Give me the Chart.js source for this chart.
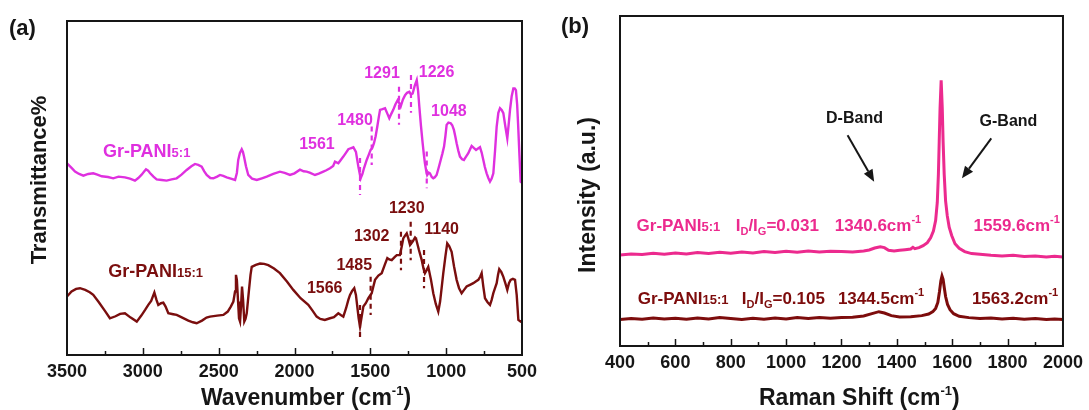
<!DOCTYPE html>
<html><head><meta charset="utf-8">
<script src="https://cdn.jsdelivr.net/npm/chart.js@4.4.0/dist/chart.umd.min.js"></script>
<style>
html,body{margin:0;padding:0;background:#fff;}
#wrap{position:relative;width:1089px;height:410px;overflow:hidden;}
#ca{position:absolute;left:0;top:0;width:545px;height:410px;}
#cb{position:absolute;left:545px;top:0;width:544px;height:410px;}
</style></head><body>
<div id="wrap"><canvas id="ca" width="545" height="410"></canvas><canvas id="cb" width="544" height="410"></canvas></div>
<script>
// ---------- Panel (a): FTIR data ----------
const irWn5 = [3500,3470,3447,3420,3392,3360,3327,3300,3271,3230,3195,3160,3118,3085,3052,3030,3008,2990,2979,2965,2953,2930,2909,2875,2843,2810,2777,2745,2711,2680,2656,2635,2612,2595,2579,2555,2535,2510,2491,2470,2447,2420,2392,2380,2371,2360,2348,2340,2333,2320,2305,2280,2249,2215,2183,2140,2096,2065,2030,2000,1964,1940,1920,1900,1865,1840,1810,1790,1766,1745,1733,1711,1695,1678,1660,1645,1630,1612,1595,1579,1564,1552,1542,1524,1510,1498,1487,1476,1465,1454,1445,1436,1420,1403,1390,1375,1362,1349,1335,1320,1310,1300,1285,1271,1258,1243,1232,1221,1208,1194,1185,1177,1166,1155,1147,1140,1132,1125,1115,1107,1095,1085,1075,1063,1050,1036,1025,1014,1005,997,985,970,960,949,940,931,920,909,895,883,870,854,843,832,818,803,790,777,766,755,745,733,722,711,700,689,678,667,656,645,634,623,610,597,588,579,568,557,548,540,532,525,517,509,500];
const irT5 = [57.4,56.0,54.9,54.2,53.7,54.2,54.4,54.0,53.5,53.3,52.9,53.4,53.2,52.8,52.2,53.0,54.0,55.0,55.6,55.2,54.5,53.4,52.6,52.4,52.2,52.6,52.9,54.0,55.4,56.5,57.2,56.9,56.4,55.0,53.9,53.0,52.9,53.4,53.9,53.6,53.2,52.8,52.4,54.5,58.4,60.5,61.6,60.8,59.4,56.5,53.9,52.8,52.4,52.9,53.4,54.2,54.9,54.5,53.9,54.4,55.5,55.0,54.9,54.6,53.9,54.3,54.9,55.3,55.9,56.6,57.9,57.4,58.4,59.4,60.6,61.6,61.9,62.2,60.8,56.4,52.9,54.2,55.9,58.4,60.0,61.4,62.0,63.4,65.5,68.4,71.0,73.4,73.6,73.9,72.5,70.9,72.2,73.4,75.0,76.3,75.5,74.4,76.5,77.8,78.5,78.8,78.0,78.3,80.5,82.3,79.0,74.4,68.5,63.4,60.0,57.4,55.2,53.9,54.6,54.4,53.3,52.9,53.2,53.9,56.0,58.4,60.3,62.4,65.5,68.9,69.6,69.4,68.8,67.4,65.5,63.4,61.2,59.4,58.6,58.4,59.3,60.4,61.5,62.6,62.0,61.4,61.8,62.2,60.6,58.4,56.3,54.4,53.0,51.9,52.8,54.4,61.0,68.4,72.5,73.9,73.4,72.4,68.5,64.9,69.0,73.4,77.5,79.8,79.8,79.3,75.0,68.4,60.0,51.9,51.5];

const irWn15 = [3500,3470,3440,3414,3380,3350,3327,3290,3250,3217,3180,3150,3118,3080,3040,3010,2985,2964,2945,2924,2910,2898,2880,2865,2850,2832,2800,2777,2740,2700,2670,2645,2610,2580,2557,2510,2469,2440,2420,2403,2392,2386,2380,2372,2366,2359,2352,2346,2339,2331,2323,2315,2300,2290,2282,2255,2227,2200,2173,2135,2096,2050,2008,1960,1909,1880,1854,1830,1800,1766,1740,1711,1695,1678,1660,1645,1634,1620,1606,1595,1586,1577,1568,1557,1546,1530,1513,1491,1480,1469,1447,1425,1405,1388,1375,1359,1340,1326,1305,1293,1283,1270,1260,1250,1238,1220,1205,1199,1180,1161,1150,1140,1128,1118,1100,1085,1068,1052,1040,1030,1019,1005,993,980,964,948,931,915,898,882,865,843,821,805,788,775,766,755,744,727,711,700,689,678,667,658,650,636,623,610,597,586,575,560,546,535,524,509,500];
const irT15 = [17.5,19.0,19.8,20.0,19.5,18.8,18.0,15.8,13.2,11.0,11.6,12.3,12.5,11.2,10.0,11.8,13.5,15.0,16.2,18.7,16.5,15.0,15.5,15.7,14.5,12.5,12.2,12.0,11.2,10.3,9.8,9.5,10.3,11.2,11.5,11.8,12.0,13.0,14.5,16.0,19.0,24.0,22.5,16.0,11.0,10.0,15.0,20.5,16.5,10.0,10.8,12.5,19.5,24.0,26.4,27.0,27.4,27.3,26.9,25.9,24.5,22.0,19.5,17.0,15.0,13.2,11.5,10.8,10.5,11.0,11.3,12.5,12.0,11.5,14.0,16.5,18.0,19.2,20.0,18.0,14.5,11.0,8.5,11.5,14.5,15.5,17.0,18.5,20.5,22.5,23.8,24.5,27.0,29.0,28.6,28.4,29.3,29.9,29.9,32.5,34.9,35.8,36.4,35.0,32.9,34.0,35.2,34.9,31.5,28.4,26.0,24.5,25.5,26.4,22.5,18.5,15.2,13.0,16.0,20.0,24.5,29.5,33.4,32.6,30.9,26.5,22.5,20.0,18.5,19.5,20.5,21.0,21.5,22.0,22.5,23.5,24.5,20.5,17.0,15.8,15.0,16.5,18.5,20.0,21.5,24.0,25.7,24.8,23.4,21.5,19.5,21.5,22.5,22.8,22.5,18.0,10.5,10.0,10.2];

const irTickLabels = [500,1000,1500,2000,2500,3000,3500];

// peak labels [text, wavenumber, level] and dashed markers [wavenumber, from, to]
const irPeakLabels5 = [['1561',1852,62.9],['1480',1601,70.1],['1291',1423,84.3],['1226',1063,84.6],['1048',982,72.8]];
const irPeakLabels15 = [['1230',1260,43.9],['1302',1491,35.4],['1140',1030,37.6],['1485',1606,26.9],['1566',1801,20.0]];
const irDash5 = [[1568,59.0,47.9],[1491,68.4,56.9],[1311,80.3,68.9],[1232,83.8,72.5],[1128,60.9,49.9]];
const irDash15 = [[1568,15.0,5.0],[1498,23.4,12.0],[1298,36.9,25.4],[1234,39.9,28.4],[1146,31.4,20.0]];
const irSampleNames = [['Gr-PANI','5:1',3263,61.2],['Gr-PANI','15:1',3228,25.2]];

// ---------- Panel (b): Raman data ----------
const rmShift5 = [400,440,480,520,560,600,640,680,720,760,800,840,880,920,960,1000,1040,1080,1120,1160,1200,1240,1280,1300,1320,1340,1355,1370,1390,1410,1430,1450,1458,1465,1480,1495,1510,1522,1532,1540,1546,1550,1553,1556,1560,1564,1567,1571,1576,1582,1589,1598,1610,1625,1645,1670,1700,1740,1780,1820,1860,1900,1940,1970,2000];
const rmI5 = [27.6,27.9,27.7,28.1,27.8,28.2,27.9,28.3,28.0,28.4,28.1,28.5,28.2,28.6,28.3,28.7,28.4,28.8,28.5,28.7,28.6,28.5,28.8,29.1,29.7,30.1,29.8,29.0,28.8,29.0,29.2,29.4,29.9,29.5,29.8,30.4,31.3,32.8,34.8,38.0,43.5,52.0,62.0,72.0,80.5,72.0,62.0,52.0,44.0,39.5,36.0,33.5,31.0,29.6,28.6,28.0,27.8,27.5,27.3,27.5,27.1,27.3,27.0,27.2,27.0];
const rmShift15 = [400,440,480,520,560,600,640,680,720,760,800,840,880,920,960,1000,1040,1080,1120,1160,1200,1240,1280,1310,1335,1355,1380,1410,1450,1490,1515,1530,1540,1548,1554,1559,1563,1567,1571,1576,1583,1592,1605,1625,1660,1700,1740,1780,1820,1860,1900,1940,1970,2000];
const rmI15 = [8.0,8.3,8.1,8.5,8.2,8.4,8.1,8.5,8.2,8.6,8.3,8.0,8.4,8.1,8.5,8.2,8.6,8.3,8.6,8.4,8.6,8.7,9.1,9.8,10.4,10.0,9.2,8.8,8.9,9.2,9.7,10.4,11.4,13.2,16.5,19.8,21.2,20.2,17.8,15.0,12.6,11.0,9.8,9.0,8.6,8.3,8.5,8.2,8.4,8.1,8.3,8.0,8.2,8.0];
const rmTickLabels = [400,600,800,1000,1200,1400,1600,1800,2000];

const rmBandLabels = [['D-Band',1247,68.8],['G-Band',1803,67.9]];
const rmArrows = [[1222,63.9,1318,49.8],[1741,62.9,1635,50.8]];
const rmRowLevels = [36.7, 14.5];
const rmRows = [
  {name:'Gr-PANI', ratio:'5:1', id:'0.031', d:'1340.6', g:'1559.6', pos:[460,818,1176,1677]},
  {name:'Gr-PANI', ratio:'15:1', id:'0.105', d:'1344.5', g:'1563.2', pos:[464,840,1187,1671]}
];

// ---------- styling ----------
const FONT = "'Liberation Sans', Arial, sans-serif";
const C_MAG = '#DF30DF';
const C_DR = '#7A0E0E';
const C_PINK = '#EC2A8E';
const C_DR2 = '#7D0C0C';
const C_AX = '#161616';

function pts(xs, ys){ return xs.map((x,i)=>({x:x, y:ys[i]})); }

function drawRich(ctx, segs, x, y, color){
  ctx.save(); ctx.fillStyle = color; ctx.textBaseline = 'alphabetic'; ctx.textAlign = 'left';
  let cx = x;
  for (const s of segs){
    ctx.font = 'bold ' + s.size + 'px ' + FONT;
    ctx.fillText(s.t, cx, y + (s.dy||0));
    cx += ctx.measureText(s.t).width;
  }
  ctx.restore();
  return cx;
}
function seg(t,size,dy){ return {t:t,size:size,dy:dy||0}; }

function frameAndTicks(chart, step, minor){
  const {ctx, chartArea:a, scales:{x}} = chart;
  ctx.save();
  ctx.strokeStyle = C_AX; ctx.lineWidth = 2;
  ctx.strokeRect(a.left, a.top, a.right-a.left, a.bottom-a.top);
  ctx.lineWidth = 1.5;
  for (let v = x.min + minor; v < x.max; v += minor){
    const px = Math.round(x.getPixelForValue(v)) + 0.5;
    const len = (Math.round(v - x.min) % step === 0) ? 7 : 4;
    ctx.beginPath(); ctx.moveTo(px, a.bottom); ctx.lineTo(px, a.bottom - len); ctx.stroke();
  }
  ctx.restore();
}

const irDeco = {
  id:'irDeco',
  afterDatasetsDraw(chart){
    const {ctx, chartArea:a, scales:{x,y}} = chart;
    frameAndTicks(chart, 500, 250);
    ctx.save(); ctx.lineWidth = 2.2; ctx.setLineDash([5,4]);
    [[irDash5,C_MAG],[irDash15,C_DR]].forEach(([arr,col])=>{
      ctx.strokeStyle = col;
      arr.forEach(d=>{ const px=x.getPixelForValue(d[0]);
        ctx.beginPath(); ctx.moveTo(px,y.getPixelForValue(d[1])); ctx.lineTo(px,y.getPixelForValue(d[2])); ctx.stroke(); });
    });
    ctx.restore();
    ctx.save(); ctx.font = 'bold 16px ' + FONT; ctx.textAlign='center'; ctx.textBaseline='middle';
    [[irPeakLabels5,C_MAG],[irPeakLabels15,C_DR]].forEach(([arr,col])=>{
      ctx.fillStyle = col;
      arr.forEach(l=>ctx.fillText(l[0], x.getPixelForValue(l[1]), y.getPixelForValue(l[2])));
    });
    ctx.restore();
    irSampleNames.forEach((s,i)=>{
      const col = i===0 ? C_MAG : C_DR;
      const by = y.getPixelForValue(s[3]) + 6.5;
      drawRich(ctx,[seg(s[0],18),seg(s[1],13)], x.getPixelForValue(s[2]), by, col);
    });
    drawRich(ctx,[seg('Wavenumber (cm',23),seg('-1',13,-10),seg(')',23)], a.left+134, 405, C_AX);
    ctx.save(); ctx.translate(39.5, 180); ctx.rotate(-Math.PI/2);
    ctx.font='bold 22px '+FONT; ctx.fillStyle=C_AX; ctx.textAlign='center'; ctx.textBaseline='middle';
    ctx.fillText('Transmittance%',0,0); ctx.restore();
    ctx.save(); ctx.font='bold 22px '+FONT; ctx.fillStyle=C_AX; ctx.textAlign='left'; ctx.textBaseline='middle';
    ctx.fillText('(a)', 9, 29); ctx.restore();
  }
};

const rmDeco = {
  id:'rmDeco',
  afterDatasetsDraw(chart){
    const {ctx, chartArea:a, scales:{x,y}} = chart;
    frameAndTicks(chart, 200, 100);
    ctx.save(); ctx.font='bold 16px '+FONT; ctx.fillStyle=C_AX; ctx.textAlign='center'; ctx.textBaseline='middle';
    rmBandLabels.forEach(l=>ctx.fillText(l[0], x.getPixelForValue(l[1]), y.getPixelForValue(l[2])));
    ctx.restore();
    ctx.save(); ctx.strokeStyle=C_AX; ctx.fillStyle=C_AX; ctx.lineWidth=2;
    rmArrows.forEach(r=>{
      const x1=x.getPixelForValue(r[0]), y1=y.getPixelForValue(r[1]), x2=x.getPixelForValue(r[2]), y2=y.getPixelForValue(r[3]);
      const ang=Math.atan2(y2-y1,x2-x1), L=12, W=5;
      const bx=x2-L*Math.cos(ang), by=y2-L*Math.sin(ang);
      ctx.beginPath(); ctx.moveTo(x1,y1); ctx.lineTo(bx,by); ctx.stroke();
      ctx.beginPath(); ctx.moveTo(x2,y2);
      ctx.lineTo(bx+W*Math.sin(ang), by-W*Math.cos(ang));
      ctx.lineTo(bx-W*Math.sin(ang), by+W*Math.cos(ang)); ctx.closePath(); ctx.fill();
    });
    ctx.restore();
    rmRows.forEach((r,i)=>{
      const col = i===0 ? C_PINK : C_DR2;
      const by = y.getPixelForValue(rmRowLevels[i]) + 6;
      drawRich(ctx,[seg(r.name,17),seg(r.ratio,13)], x.getPixelForValue(r.pos[0]), by, col);
      drawRich(ctx,[seg('I',17),seg('D',11,4),seg('/I',17),seg('G',11,4),seg('='+r.id,17)], x.getPixelForValue(r.pos[1]), by, col);
      drawRich(ctx,[seg(r.d+'cm',17),seg('-1',11,-8)], x.getPixelForValue(r.pos[2]), by, col);
      drawRich(ctx,[seg(r.g+'cm',17),seg('-1',11,-8)], x.getPixelForValue(r.pos[3]), by, col);
    });
    drawRich(ctx,[seg('Raman Shift (cm',23),seg('-1',13,-10),seg(')',23)], a.left+139, 405, C_AX);
    ctx.save(); ctx.translate(44, 195); ctx.rotate(-Math.PI/2);
    ctx.font='bold 23px '+FONT; ctx.fillStyle=C_AX; ctx.textAlign='center'; ctx.textBaseline='middle';
    ctx.fillText('Intensity (a.u.)',0,0); ctx.restore();
    ctx.save(); ctx.font='bold 22px '+FONT; ctx.fillStyle=C_AX; ctx.textAlign='left'; ctx.textBaseline='middle';
    ctx.fillText('(b)', 16, 27); ctx.restore();
  }
};

function xScale(min,max,labels,reverse,height){
  return {
    type:'linear', min:min, max:max, reverse:reverse,
    afterBuildTicks:(s)=>{ s.ticks = labels.map(v=>({value:v})); },
    ticks:{ autoSkip:false, maxRotation:0, padding:6, color:C_AX, font:{family:FONT,size:18,weight:'bold'},
            callback:(v)=>String(v) },
    grid:{display:false, drawTicks:false}, border:{display:false},
    title:{display:false},
    afterFit:(s)=>{ s.height = height; }
  };
}
function yScale(width){
  return { type:'linear', min:0, max:100, display:true,
    ticks:{display:false}, grid:{display:false, drawTicks:false}, border:{display:false}, title:{display:false},
    afterFit:(s)=>{ s.width = width; } };
}

new Chart(document.getElementById('ca'), {
  type:'line',
  data:{datasets:[
    {data:pts(irWn5,irT5), borderColor:C_MAG, borderWidth:2.4, pointRadius:0, tension:0, fill:false},
    {data:pts(irWn15,irT15), borderColor:C_DR, borderWidth:2.4, pointRadius:0, tension:0, fill:false}
  ]},
  options:{
    responsive:false, animation:false, devicePixelRatio:1,
    layout:{padding:{left:0,right:23,top:21,bottom:0}},
    plugins:{legend:{display:false}, tooltip:{enabled:false}},
    scales:{ x:xScale(500,3500,irTickLabels,true,55), y:yScale(67) }
  },
  plugins:[irDeco]
});

new Chart(document.getElementById('cb'), {
  type:'line',
  data:{datasets:[
    {data:pts(rmShift5,rmI5), borderColor:C_PINK, borderWidth:3, pointRadius:0, tension:0, fill:false},
    {data:pts(rmShift15,rmI15), borderColor:C_DR2, borderWidth:3, pointRadius:0, tension:0, fill:false}
  ]},
  options:{
    responsive:false, animation:false, devicePixelRatio:1,
    layout:{padding:{left:0,right:22,top:16,bottom:0}},
    plugins:{legend:{display:false}, tooltip:{enabled:false}},
    scales:{ x:xScale(400,2000,rmTickLabels,false,64), y:yScale(75) }
  },
  plugins:[rmDeco]
});
</script>
</body></html>
